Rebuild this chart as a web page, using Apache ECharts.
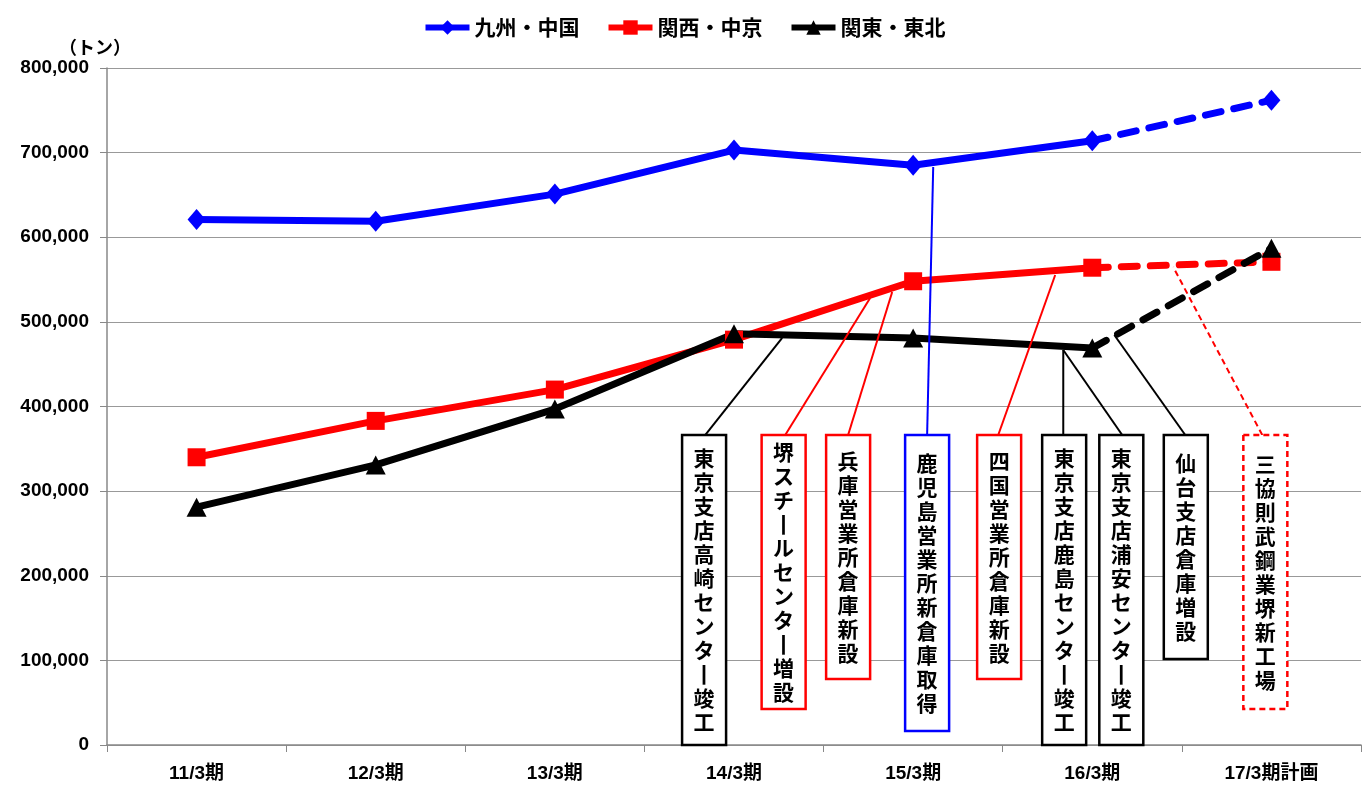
<!DOCTYPE html>
<html>
<head>
<meta charset="utf-8">
<script src="https://cdn.jsdelivr.net/npm/echarts@6/dist/echarts.min.js"></script>
<style>html,body{margin:0;padding:0;background:#fff;}#c{width:1368px;height:787px;}</style>
</head>
<body>
<div id="c"></div>
<script>
// ---- data ----
const categories = ['11/3期', '12/3期', '13/3期', '14/3期', '15/3期', '16/3期', '17/3期計画'];
const seriesNames = ['九州・中国', '関西・中京', '関東・東北'];
const kyushu = [621000, 619000, 651000, 703000, 685000, 714000, 762000];
const kansai = [340000, 383000, 420000, 479000, 548000, 564000, 571000];
const kanto  = [281000, 331000, 397000, 486000, 481000, 469000, 587000];
const planIndex = 6; // 17/3期計画 is a plan (dashed)
const yUnit = '（トン）';
const notes = [
  '東京支店高崎センター竣工',
  '堺スチールセンター増設',
  '兵庫営業所倉庫新設',
  '鹿児島営業所新倉庫取得',
  '四国営業所倉庫新設',
  '東京支店鹿島センター竣工',
  '東京支店浦安センター竣工',
  '仙台支店倉庫増設',
  '三協則武鋼業堺新工場'
];
const noteSeries = [2, 1, 1, 0, 1, 2, 2, 2, 1]; // which series each note refers to
const notePlanned = [false, false, false, false, false, false, false, false, true];

// ---- layout of annotations (category-index / value coordinates) ----
// [boxCenterX, boxTop, boxBottom, leaderStartX, leaderEndX, leaderEndY]
const noteLayout = [
  [2.833, 366300, 0,     2.839, 3.269, 481000],
  [3.277, 366300, 42500, 3.286, 3.760, 528200],
  [3.637, 366300, 78000, 3.637, 3.883, 535300],
  [4.078, 366300, 16500, 4.078, 4.112, 683000],
  [4.480, 366300, 78000, 4.475, 4.793, 555400],
  [4.843, 366300, 0,     4.838, 4.838, 466800],
  [5.162, 366300, 0,     5.167, 4.838, 466800],
  [5.522, 366300, 101600,5.519, 5.123, 484500],
  [5.966, 366300, 42500, 5.949, 5.452, 564800]
];

const colors = ['#0000FF', '#FF0000', '#000000'];
const symbols = ['diamond', 'rect', 'triangle'];
const symbolSizes = [[18, 21], 18, [20, 19]];
const allData = [kyushu, kansai, kanto];

const chart = echarts.init(document.getElementById('c'));

const series = [];
allData.forEach((arr, s) => {
  series.push({
    name: seriesNames[s],
    type: 'line',
    data: arr.map((v, i) => i < planIndex ? v : '-'),
    color: colors[s],
    symbol: symbols[s],
    symbolSize: symbolSizes[s],
    lineStyle: { width: 7, color: colors[s] },
    itemStyle: { color: colors[s] },
    z: 3,
    animation: false
  });
});
allData.forEach((arr, s) => {
  series.push({
    name: seriesNames[s] + '（計画）',
    type: 'line',
    data: arr.map((v, i) => {
      if (i < planIndex - 1) return '-';
      if (i === planIndex - 1) return { value: v, symbol: 'none' };
      return v;
    }),
    color: colors[s],
    symbol: symbols[s],
    symbolSize: symbolSizes[s],
    lineStyle: { width: 7, color: colors[s], type: [16, 13], cap: 'round' },
    itemStyle: { color: colors[s] },
    z: 3,
    animation: false
  });
});

series.push({
  type: 'custom',
  name: 'notes',
  xAxisIndex: 1,
  yAxisIndex: 0,
  silent: true,
  z: 10,
  animation: false,
  data: notes.map((n, i) => [i, 0]),
  renderItem: function (params, api) {
    const i = api.value(0);
    const L = noteLayout[i];
    const col = colors[noteSeries[i]];
    const dash = notePlanned[i] ? [6, 4] : null;
    const pTop = api.coord([L[0], L[1]]);
    const pBot = api.coord([L[0], L[2]]);
    const pS = api.coord([L[3], L[1]]);
    const pE = api.coord([L[4], L[5]]);
    const w = 44;
    const txt = notes[i].split('').map(c => c === 'ー' ? '丨' : c).join('\n');
    return {
      type: 'group',
      children: [
        { type: 'line', shape: { x1: pS[0], y1: pS[1], x2: pE[0], y2: pE[1] },
          style: { stroke: col, lineWidth: 2, lineDash: dash } },
        { type: 'rect', shape: { x: pTop[0] - w / 2, y: pTop[1], width: w, height: pBot[1] - pTop[1] },
          style: { fill: '#fff', stroke: col, lineWidth: 2.5, lineDash: dash } },
        { type: 'text',
          style: { text: txt, x: pTop[0], y: (pTop[1] + pBot[1]) / 2, align: 'center', verticalAlign: 'middle',
                   font: 'bold 21px "Noto Sans CJK JP"', lineHeight: 24, fill: '#000' } }
      ]
    };
  }
});

chart.setOption({
  animation: false,
  backgroundColor: '#fff',
  legend: {
    data: seriesNames,
    top: 12,
    left: 'center',
    itemWidth: 44,
    itemHeight: 18,
    itemGap: 26,
    lineStyle: { width: 6 },
    textStyle: { fontFamily: 'Noto Sans CJK JP', fontWeight: 'bold', fontSize: 21, color: '#000' }
  },
  grid: { left: 107, right: 7, top: 68, bottom: 42, containLabel: false },
  xAxis: [
    {
      type: 'category',
      data: categories,
      boundaryGap: true,
      axisLine: { lineStyle: { color: '#888', width: 1.5 } },
      axisTick: { show: true, length: 7, lineStyle: { color: '#888' } },
      axisLabel: { color: '#000', fontWeight: 'bold', fontSize: 19, margin: 19,
                   fontFamily: '"Liberation Sans", "Noto Sans CJK JP"' }
    },
    { type: 'value', min: -0.5, max: 6.5, show: false }
  ],
  yAxis: {
    type: 'value',
    min: 0,
    max: 800000,
    interval: 100000,
    name: yUnit,
    nameLocation: 'end',
    nameGap: 12,
    nameTextStyle: { color: '#000', fontWeight: 'bold', fontSize: 18, fontFamily: 'Noto Sans CJK JP',
                     align: 'center', padding: [0, 24, 0, 0] },
    axisLine: { show: true, onZero: false, lineStyle: { color: '#888', width: 1.5 } },
    axisTick: { show: true, length: 7, lineStyle: { color: '#888' } },
    splitLine: { lineStyle: { color: '#999', width: 1.2 } },
    axisLabel: {
      color: '#000', fontWeight: 'bold', fontSize: 19, margin: 18,
      fontFamily: '"Liberation Sans", Arial',
      formatter: v => v.toLocaleString('en-US')
    }
  },
  series: series
});
</script>
</body>
</html>
